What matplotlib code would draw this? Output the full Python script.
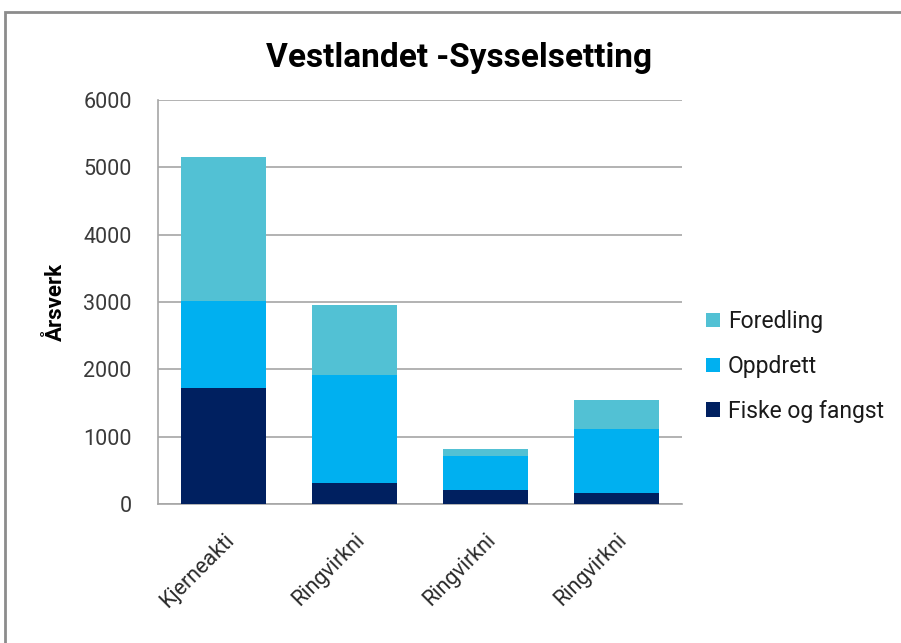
import matplotlib
matplotlib.use('Agg')

import matplotlib.pyplot as plt
import matplotlib.transforms as mtransforms
from matplotlib.patches import Rectangle

plt.rcParams['font.family'] = ['Roboto', 'DejaVu Sans']

categories = ['Kjerneakti', 'Ringvirkni', 'Ringvirkni', 'Ringvirkni']
fiske = [1717, 308, 213, 159]
oppdrett = [1295, 1603, 497, 948]
foredling = [2139, 1047, 109, 441]

series = [('Fiske og fangst', fiske, '#002060'),
          ('Oppdrett', oppdrett, '#00B0F0'),
          ('Foredling', foredling, '#52C1D4')]

fig = plt.figure(figsize=(9.01, 6.43), dpi=100)
ax = fig.add_axes([0.1754, 0.2162, 0.5816, 0.6283])

x = range(len(categories))
bottom = [0] * len(categories)
handles = []
for name, vals, col in series:
	b = ax.bar(x, vals, 0.65, bottom=bottom, color=col, label=name, zorder=3)
	handles.append(b)
	bottom = [a + v for a, v in zip(bottom, vals)]

ax.set_xlim(-0.5, 3.5)
ax.set_ylim(0, 6000)
ax.set_yticks(range(0, 6001, 1000))
ax.yaxis.grid(True, color='#a6a6a6', linewidth=1.2, zorder=0)
ax.tick_params(axis='y', length=0, pad=19, labelsize=15.5, colors='#3a3a3a')
ax.tick_params(axis='x', length=0, pad=14, labelsize=15.5, colors='#2a2a2a')
ax.set_xticks(list(x))
ax.set_xticklabels(categories, rotation=45, ha='right', rotation_mode='anchor')
shift = mtransforms.ScaledTranslation(0, -6 / 100, fig.dpi_scale_trans)
for lbl in ax.get_xticklabels():
	lbl.set_transform(lbl.get_transform() + shift)
for s in ['top', 'right']:
	ax.spines[s].set_visible(False)
for s in ['left', 'bottom']:
	ax.spines[s].set_color('#a6a6a6')
	ax.spines[s].set_linewidth(1.2)

ax.set_ylabel('Årsverk', fontsize=16, fontweight='bold', labelpad=12)
fig.text(0.509, 0.91, 'Vestlandet -Sysselsetting', ha='center', va='center',
	fontsize=24, fontweight='bold')

leg = fig.legend(handles[::-1], [s[0] for s in series][::-1],
	loc='center left', bbox_to_anchor=(0.761, 0.43), frameon=False,
	fontsize=16.5, handlelength=0.6, handleheight=0.6,
	handletextpad=0.35, labelspacing=0.95)
for t in leg.get_texts():
	t.set_color('#1a1a1a')

fig.patches.append(Rectangle((5 / 901, -0.1), 1.1, 1 - 12 / 643 + 0.1,
	transform=fig.transFigure, fill=False, edgecolor='#8c8c8c', linewidth=2))

plt.savefig('out.png', dpi=100)
